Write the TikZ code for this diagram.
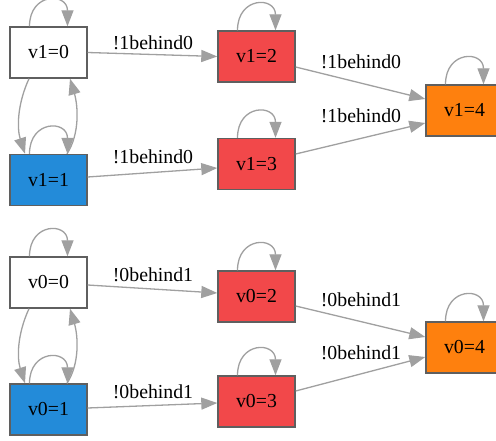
\documentclass[tikz,border=0pt]{standalone}
\usepackage{fontspec}
\setmainfont{Liberation Serif}
\usetikzlibrary{arrows.meta,calc}
\definecolor{stblue}{RGB}{35,139,217}
\definecolor{stred}{RGB}{242,72,74}
\definecolor{storange}{RGB}{254,128,14}
\definecolor{edgegray}{RGB}{160,160,160}
\definecolor{bordergray}{RGB}{95,95,95}
\tikzset{
  state/.style={draw=bordergray, line width=1.4pt, rectangle, minimum width=77pt, minimum height=51pt,
    inner sep=0pt, font=\fontsize{19.8}{23}\selectfont},
  lbl/.style={font=\fontsize{19.8}{23}\selectfont, inner sep=0pt},
  tip/.tip={Triangle[length=16pt 0, width=12pt 0]},
  tr/.style={draw=edgegray, fill=none, line width=1.3pt, -tip},
}
\newcommand{\selfloop}[1]{%
  \draw[tr] ($(#1.north)+(-19,0)$) .. controls +(0,-34) and +(0,-34) .. ($(#1.north)+(19,0)$);}
\begin{document}
\begin{tikzpicture}[x=1pt,y=-1pt]
\useasboundingbox[fill=white] (0,0) rectangle (496,441);

% variable v1
\node[state, fill=white]    (v10) at (48.5,52.5)  {v1=0};
\node[state, fill=stblue]   (v11) at (48.5,180)   {v1=1};
\node[state, fill=stred]    (v12) at (256.5,56.5) {v1=2};
\node[state, fill=stred]    (v13) at (256.5,164)  {v1=3};
\node[state, fill=storange] (v14) at (464.5,110.5){v1=4};

% variable v0
\node[state, fill=white]    (v00) at (48.5,282.5)  {v0=0};
\node[state, fill=stblue]   (v01) at (48.5,409.5)  {v0=1};
\node[state, fill=stred]    (v02) at (256.5,296.5) {v0=2};
\node[state, fill=stred]    (v03) at (256.5,401.5) {v0=3};
\node[state, fill=storange] (v04) at (464.5,347.5) {v0=4};

% self loops
\foreach \n in {v10,v11,v12,v13,v14,v00,v01,v02,v03,v04}{\selfloop{\n}}

% v1 transitions
\draw[tr] ($(v10.south)+(-19.5,0)$) .. controls +(-12,26) and +(-8,-25) .. ($(v11.north)+(-23.5,0)$);
\draw[tr] ($(v11.north)+(18.5,0)$) .. controls +(13,-20) and +(8,27) .. ($(v10.south)+(21.5,0)$);
\draw[tr] (v10.east) -- (v12.west);
\draw[tr] ($(v11.east)+(0,-3)$) -- ($(v13.west)+(0,4)$);
\draw[tr] ($(v12.east)+(0,10.5)$) -- ($(v14.west)+(0,-11.5)$);
\draw[tr] ($(v13.east)+(0,-10)$) -- ($(v14.west)+(0,12.5)$);

% v0 transitions
\draw[tr] ($(v00.south)+(-19.5,0)$) .. controls +(-12,26) and +(-8,-25) .. ($(v01.north)+(-23.5,0)$);
\draw[tr] ($(v01.north)+(18.5,0)$) .. controls +(13,-20) and +(8,27) .. ($(v00.south)+(21.5,0)$);
\draw[tr] ($(v00.east)+(0,2.5)$) -- ($(v02.west)+(0,-3.5)$);
\draw[tr] ($(v01.east)+(0,-1.5)$) -- ($(v03.west)+(0,1.5)$);
\draw[tr] ($(v02.east)+(0,9.5)$) -- ($(v04.west)+(0,-10.5)$);
\draw[tr] ($(v03.east)+(0,-10.5)$) -- ($(v04.west)+(0,9.5)$);

% edge labels
\node[lbl] (l1a) at (153,43)  {!1behind0};
\node[lbl] (l1b) at (153,157) {!1behind0};
\node[lbl] (l1c) at (361,62)  {!1behind0};
\node[lbl] (l1d) at (361,116) {!1behind0};
\node[lbl] (l0a) at (153,275) {!0behind1};
\node[lbl] (l0b) at (153,392) {!0behind1};
\node[lbl] (l0c) at (361,300) {!0behind1};
\node[lbl] (l0d) at (361,353) {!0behind1};
\end{tikzpicture}
\end{document}
